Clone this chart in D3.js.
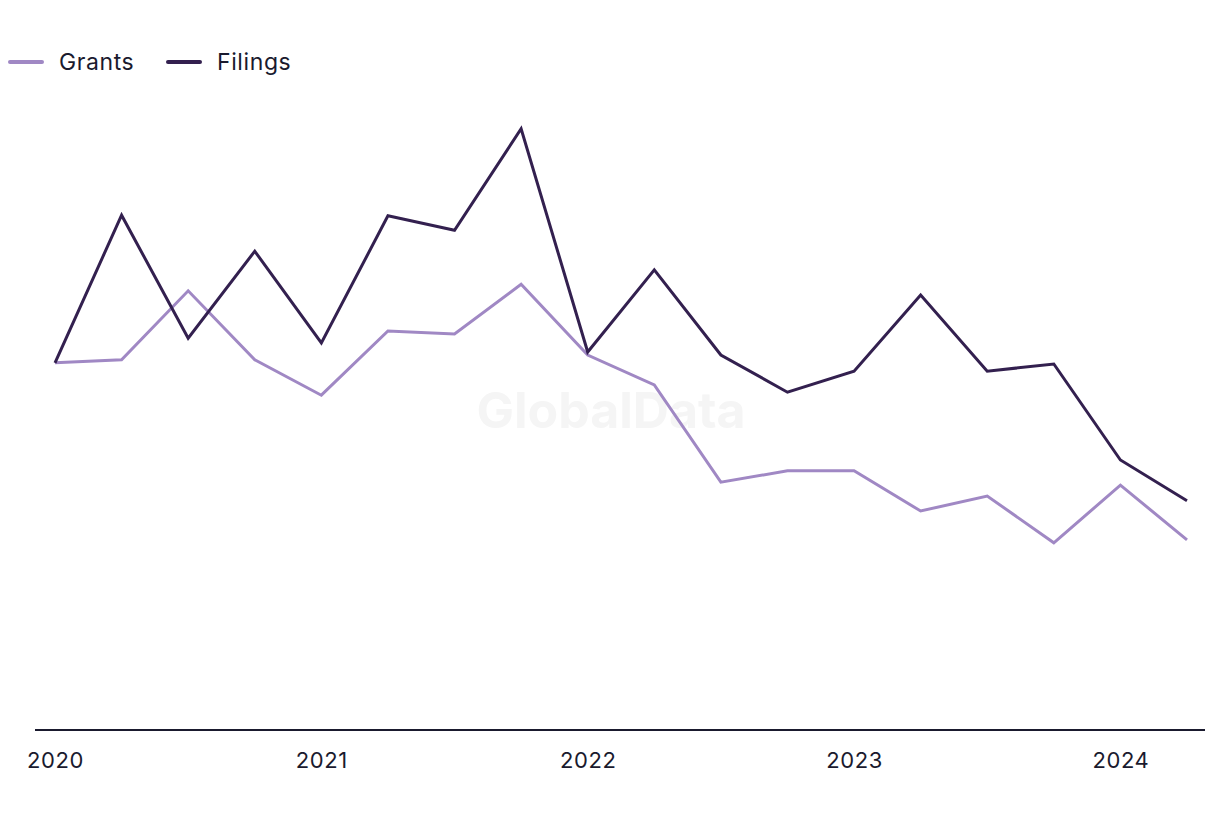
<!DOCTYPE html>
<html><head><meta charset="utf-8">
<script src="https://cdn.jsdelivr.net/npm/d3@7"></script>
<style>
html,body{margin:0;padding:0;background:#fff;}
svg{display:block;font-family:Inter,"Noto Sans",sans-serif;}
</style></head>
<body>
<svg id="chart" width="1220" height="820"></svg>
<script>
const quarters = ["2020 Q1","2020 Q2","2020 Q3","2020 Q4","2021 Q1","2021 Q2","2021 Q3","2021 Q4","2022 Q1","2022 Q2","2022 Q3","2022 Q4","2023 Q1","2023 Q2","2023 Q3","2023 Q4","2024 Q1","2024 Q2"];
const grants  = [61.2, 61.7, 73.2, 61.7, 55.8, 66.5, 66.0, 74.3, 62.5, 57.5, 41.3, 43.2, 43.2, 36.5, 39.0, 31.2, 40.8, 31.7];
const filings = [61.2, 85.8, 65.3, 79.8, 64.5, 85.7, 83.3, 100.2, 63.0, 76.7, 62.5, 56.3, 59.8, 72.5, 59.8, 61.0, 45.0, 38.2];
const tickIdx = [0, 4, 8, 12, 16];
const tickLabels = ["2020", "2021", "2022", "2023", "2024"];
const seriesNames = ["Grants", "Filings"];
const colors = ["#a088c4", "#33204f"];

const svg = d3.select("#chart");
const x = d3.scaleLinear().domain([0, quarters.length - 1]).range([55, 1187]);
const y = d3.scaleLinear().domain([0, 100]).range([730, 130]);

// watermark
svg.append("text").attr("x", 611).attr("y", 428).attr("text-anchor", "middle")
  .attr("font-size", 50).attr("font-weight", 700).attr("fill", "#f5f5f5").text("GlobalData");

// axis
const axis = d3.axisBottom(x).tickValues(tickIdx)
  .tickFormat((d, i) => tickLabels[i]).tickSize(0).tickPadding(22);
const gx = svg.append("g").attr("transform", "translate(0,730)").call(axis);
gx.select(".domain").remove();
gx.append("line").attr("x1", 35).attr("x2", 1205).attr("y1", 0).attr("y2", 0)
  .attr("stroke", "#1a1a2e").attr("stroke-width", 2);
gx.selectAll(".tick text").attr("font-size", 22).attr("fill", "#1a1a2e")
  .attr("letter-spacing", "0.6px")
  .attr("font-family", "Inter, 'Noto Sans', sans-serif");

const line = d3.line().x((d, i) => x(i)).y(d => y(d));
[grants, filings].forEach((s, k) => {
  svg.append("path").datum(s).attr("d", line).attr("fill", "none")
    .attr("stroke", colors[k]).attr("stroke-width", 3)
    .attr("stroke-linejoin", "miter");
});

// legend
const legX = [10, 168];
seriesNames.forEach((n, k) => {
  const g = svg.append("g").attr("transform", `translate(${legX[k]},62)`);
  g.append("line").attr("x1", 0).attr("x2", 32).attr("y1", 0).attr("y2", 0)
    .attr("stroke", colors[k]).attr("stroke-width", 4).attr("stroke-linecap", "round");
  g.append("text").attr("x", 49).attr("y", 8).attr("font-size", 23)
    .attr("letter-spacing", "0.6px")
    .attr("fill", "#1a1a2e").text(n);
});
</script>
</body></html>
